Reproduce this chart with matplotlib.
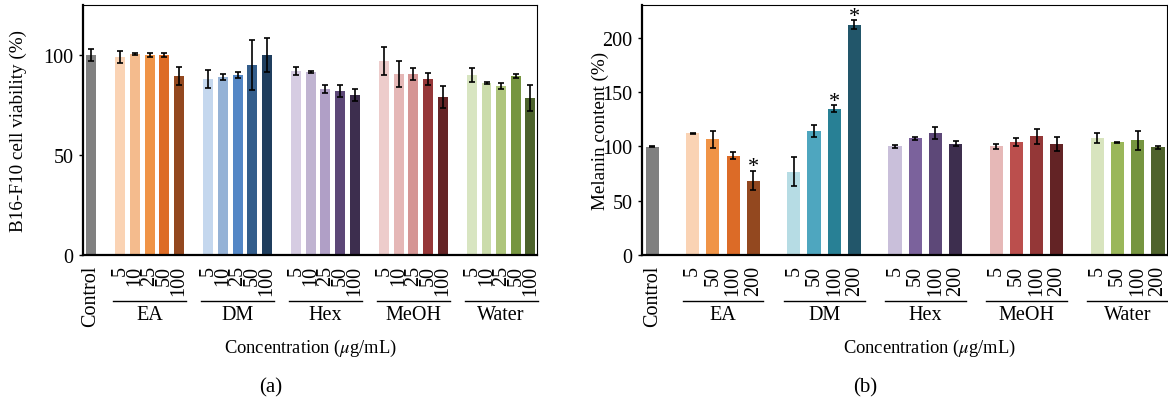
import numpy as np
import matplotlib
matplotlib.use("Agg")
import matplotlib.pyplot as plt
import matplotlib.transforms as mtransforms

plt.rcParams['font.family'] = ['Liberation Serif', 'DejaVu Serif']
plt.rcParams['mathtext.fontset'] = 'stix'

groups = ['EA', 'DM', 'Hex', 'MeOH', 'Water']

# panel (a): cell viability
conc_a = ['5', '10', '25', '50', '100']
ctrl_a, ctrl_a_err = 100, 3
via_a = {
    'EA':    [99, 100.5, 100, 100, 89.5],
    'DM':    [88, 89, 90, 95, 100],
    'Hex':   [92, 91.5, 83, 82, 80],
    'MeOH':  [97, 90.5, 90.5, 88, 79],
    'Water': [90, 86, 84.5, 89.5, 78.5],
}
err_a = {
    'EA':    [3, 0.3, 1, 0.8, 4.7],
    'DM':    [4.5, 1.3, 1.3, 12.7, 8.7],
    'Hex':   [1.8, 0.4, 2, 3, 3],
    'MeOH':  [7, 6.4, 3, 2.8, 5.6],
    'Water': [3.7, 0.4, 1.5, 1, 6.3],
}
col_a = {
    'EA':    ['#fad3b4', '#f4bb8d', '#f09447', '#dd6c26', '#93481f'],
    'DM':    ['#c4d7ee', '#95b2d6', '#5487c6', '#345e8c', '#1f3e5e'],
    'Hex':   ['#d6cce2', '#c0b4d1', '#b09fc6', '#5d4878', '#3d2e4e'],
    'MeOH':  ['#edcccb', '#e5b7b6', '#d59594', '#963738', '#652426'],
    'Water': ['#d8e5c1', '#cbdcab', '#aec57c', '#769540', '#4d632c'],
}

# panel (b): melanin content
conc_b = ['5', '50', '100', '200']
ctrl_b, ctrl_b_err = 99.5, 0.5
mel_b = {
    'EA':    [112, 106.3, 91.5, 68.5],
    'DM':    [76.5, 114.3, 134.6, 212],
    'Hex':   [99.8, 107.2, 112.4, 102.3],
    'MeOH':  [99.8, 104.1, 109, 101.7],
    'Water': [107.8, 103.5, 105.4, 99],
}
err_b = {
    'EA':    [0.5, 7.5, 2.8, 9],
    'DM':    [13.4, 5.5, 3.4, 3.8],
    'Hex':   [1.7, 1.2, 5.4, 2.3],
    'MeOH':  [2.5, 3.4, 6.6, 6.5],
    'Water': [4.5, 0.5, 8.4, 1.2],
}
stars_b = {'EA': [3], 'DM': [2, 3]}
col_b = {
    'EA':    ['#fad3b4', '#f09447', '#dc6b27', '#93481f'],
    'DM':    ['#b6dce4', '#4ea6bf', '#288095', '#22566a'],
    'Hex':   ['#c9bfda', '#7b629c', '#5d4878', '#3d2e4e'],
    'MeOH':  ['#e6b8b7', '#bb4f4d', '#943737', '#632325'],
    'Water': ['#d8e4be', '#9ab75a', '#769540', '#4f632c'],
}
ctrl_col = '#808080'

fig = plt.figure(figsize=(11.68, 4.02), dpi=100)
ax_a = fig.add_axes([0.0711, 0.3632, 0.3887, 0.622])
ax_b = fig.add_axes([0.5497, 0.3632, 0.4495, 0.622])


def draw(ax, conc, ctrl, ctrl_err, vals, errs, cols, width, stars=None):
    n = len(conc)
    pos = [0]
    labels = ['Control']
    ax.bar(0, ctrl, width, color=ctrl_col)
    ax.errorbar(0, ctrl, yerr=ctrl_err, fmt='none', ecolor='black',
                elinewidth=1.2, capsize=2.5, capthick=1.2)
    trans = mtransforms.blended_transform_factory(ax.transData, ax.transAxes)
    for gi, g in enumerate(groups):
        x = np.arange(n) + 2 + gi * (n + 1)
        ax.bar(x, vals[g], width, color=cols[g])
        ax.errorbar(x, vals[g], yerr=errs[g], fmt='none', ecolor='black',
                    elinewidth=1.2, capsize=2.5, capthick=1.2)
        if stars and g in stars:
            for k in stars[g]:
                ax.annotate('*', (x[k], vals[g][k] + errs[g][k]),
                            xytext=(0, -4), textcoords='offset points',
                            ha='center', va='bottom', fontsize=16)
        pos += list(x)
        labels += conc
        ax.plot([x[0] - 0.5, x[-1] + 0.5], [-0.184, -0.184], transform=trans,
                color='black', lw=1, clip_on=False)
        ax.text(x.mean(), -0.236, g, transform=trans, ha='center',
                va='center', fontsize=14.5)
    ax.set_xticks(pos)
    ax.set_xticklabels(labels, rotation=90, va='top', fontsize=14.5)
    ax.tick_params(axis='x', length=0, pad=7)
    ax.tick_params(axis='y', length=3, width=1, pad=4, labelsize=14.5)
    for s in ['left', 'bottom']:
        ax.spines[s].set_linewidth(1.6)
    for s in ['top', 'right']:
        ax.spines[s].set_linewidth(0.8)


draw(ax_a, conc_a, ctrl_a, ctrl_a_err, via_a, err_a, col_a, 0.68)
ax_a.set_xlim(-0.55, 30.45)
ax_a.set_ylim(0, 125)
ax_a.set_yticks([0, 50, 100])

draw(ax_b, conc_b, ctrl_b, ctrl_b_err, mel_b, err_b, col_b, 0.65, stars_b)
ax_b.set_xlim(-0.5, 25.45)
ax_b.set_ylim(0, 230)
ax_b.set_yticks([0, 50, 100, 150, 200])

fig.text(0.0154, 0.675, 'B16-F10 cell viability (%)', rotation=90,
         ha='center', va='center', fontsize=13.8)
fig.text(0.514, 0.675, 'Melanin content (%)', rotation=90,
         ha='center', va='center', fontsize=13.8)
fig.text(0.2654, 0.134, r'Concentration ($\mu$g/mL)', ha='center',
         va='center', fontsize=13.3)
fig.text(0.796, 0.134, r'Concentration ($\mu$g/mL)', ha='center',
         va='center', fontsize=13.3)
fig.text(0.232, 0.035, '(a)', ha='center', va='center', fontsize=15)
fig.text(0.741, 0.035, '(b)', ha='center', va='center', fontsize=15)

fig.savefig('out.png', dpi=100)
